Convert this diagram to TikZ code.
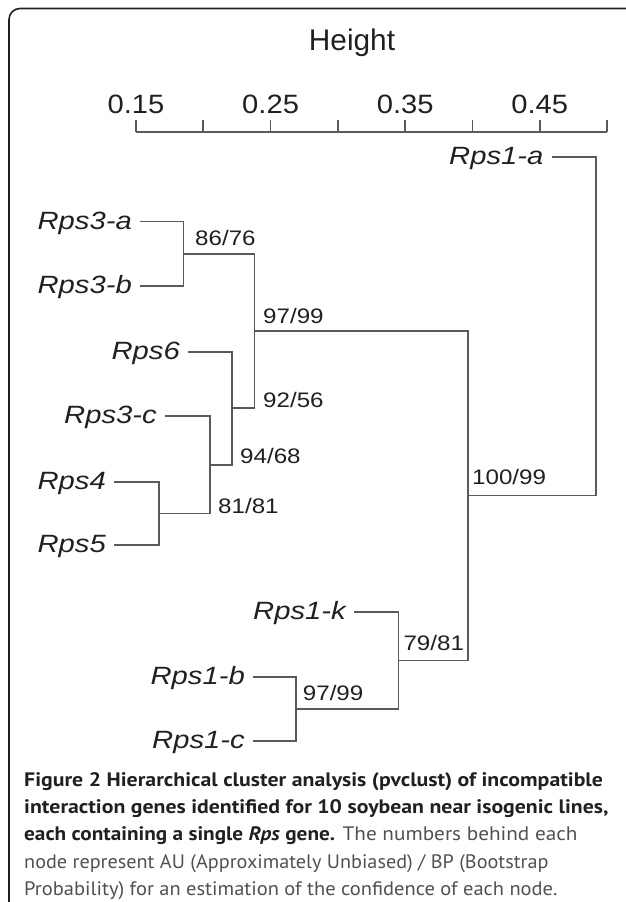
\documentclass[tikz,border=0pt]{standalone}
\usepackage{fontspec}
\usetikzlibrary{calc}
\setmainfont{Liberation Sans}
\newfontfamily\capfont{PT Sans}
\definecolor{ink}{RGB}{35,31,32}
\definecolor{capgray}{RGB}{80,80,80}
\definecolor{branchgray}{RGB}{90,90,90}
\newcommand{\genetxt}[1]{\scalebox{1.17}[1]{\itshape #1}}
\newcommand{\boottxt}[1]{\scalebox{1.15}[1]{#1}}
\newcommand{\ticktxt}[1]{\scalebox{1.1}[1]{#1}}
\newcommand{\capfit}[2]{\resizebox{#1}{\height}{#2}}
\tikzset{
  gene/.style={font=\fontsize{25}{25}\selectfont, text=ink, inner sep=0pt, anchor=base east},
  boot/.style={font=\fontsize{21}{21}\selectfont, text=ink, inner sep=0pt, anchor=base west},
  ticklab/.style={font=\fontsize{26.5}{26.5}\selectfont, text=ink, inner sep=0pt, anchor=base},
  branch/.style={draw=branchgray, line width=1.6pt},
  axisline/.style={draw=branchgray, line width=1.6pt},
  frameline/.style={draw=ink, line width=1.6pt, rounded corners=11pt},
  capline/.style={font=\capfont\fontsize{19.5}{19.5}\selectfont, text=capgray, inner sep=0pt, anchor=base west}
}
\begin{document}
\begin{tikzpicture}[x=1pt,y=-1pt]
\useasboundingbox (0,0) rectangle (625,902);
% frame
\draw[frameline] (626,8.5) -- (9,8.5) -- (9,903);
% title
\node[font=\fontsize{29.8}{29.8}\selectfont, text=ink, inner sep=0pt, anchor=base] (htitle) at (352,50.7) {Height};
% axis
\coordinate (axL) at (136,132);
\coordinate (axR) at (607,132);
\draw[axisline] (axL) -- (axR);
\foreach \i in {0,...,7}{
  \draw[axisline] ($(axL)+(\i*67.29,0)$) -- ++(0,-12.5);
}
\node[ticklab] (t15) at (136,113) {\ticktxt{0.15}};
\node[ticklab] (t25) at (270.6,113) {\ticktxt{0.25}};
\node[ticklab] (t35) at (405.2,113) {\ticktxt{0.35}};
\node[ticklab] (t45) at (539.7,113) {\ticktxt{0.45}};
% leaf coordinates (start of leaf branches)
\coordinate (L1a) at (551.7,156.7);
\coordinate (L3a) at (140,221.5);
\coordinate (L3b) at (140,286);
\coordinate (L6)  at (188,351.7);
\coordinate (L3c) at (165,416);
\coordinate (L4)  at (114,481.7);
\coordinate (L5)  at (114,545);
\coordinate (L1k) at (354,611.7);
\coordinate (L1b) at (253,676.7);
\coordinate (L1c) at (253,741);
% gene labels
\node[gene] (g1a) at ($(L1a)+(-8,7.5)$) {\genetxt{Rps1-a}};
\node[gene] (g3a) at ($(L3a)+(-8,7.5)$) {\genetxt{Rps3-a}};
\node[gene] (g3b) at ($(L3b)+(-8,7.5)$) {\genetxt{Rps3-b}};
\node[gene] (g6)  at ($(L6)+(-8,7.5)$)  {\genetxt{Rps6}};
\node[gene] (g3c) at ($(L3c)+(-8,7.5)$) {\genetxt{Rps3-c}};
\node[gene] (g4)  at ($(L4)+(-8,7.5)$)  {\genetxt{Rps4}};
\node[gene] (g5)  at ($(L5)+(-8,7.5)$)  {\genetxt{Rps5}};
\node[gene] (g1k) at ($(L1k)+(-8,7.5)$) {\genetxt{Rps1-k}};
\node[gene] (g1b) at ($(L1b)+(-8,7.5)$) {\genetxt{Rps1-b}};
\node[gene] (g1c) at ($(L1c)+(-8,7.5)$) {\genetxt{Rps1-c}};
% merge points
\coordinate (n86)  at (183.5,253.7);
\coordinate (n81)  at (159,513.3);
\coordinate (n94)  at (210,464.7);
\coordinate (n92)  at (232,408.2);
\coordinate (n97a) at (254.5,331);
\coordinate (n97b) at (295.7,708.8);
\coordinate (n79)  at (398.3,660.3);
\coordinate (n100) at (468,495.6);
\coordinate (root) at (596,326);
% branches
\draw[branch] (L3a) -| (n86) |- (L3b);
\draw[branch] (L4) -| (n81) |- (L5);
\draw[branch] (L3c) -| (n94) |- (n81);
\draw[branch] (L6) -| (n92) |- (n94);
\draw[branch] (n86) -| (n97a) |- (n92);
\draw[branch] (L1b) -| (n97b) |- (L1c);
\draw[branch] (L1k) -| (n79) |- (n97b);
\draw[branch] (n97a) -| (n100) |- (n79);
\draw[branch] (L1a) -| (root) |- (n100);
% AU/BP labels
\node[boot] (b86)  at (195,245.7) {\boottxt{86/76}};
\node[boot] (b97a) at (263,323) {\boottxt{97/99}};
\node[boot] (b92)  at (263,407.5) {\boottxt{92/56}};
\node[boot] (b94)  at (240,463.5) {\boottxt{94/68}};
\node[boot] (b81)  at (218,513.5) {\boottxt{81/81}};
\node[boot] (b100) at (472,484) {\boottxt{100/99}};
\node[boot] (b79)  at (403.3,650.7) {\boottxt{79/81}};
\node[boot] (b97b) at (302.7,700) {\boottxt{97/99}};
% caption
\node[capline] (c1) at (24,786.7) {\capfit{578.7pt}{\textcolor{ink}{\bfseries Figure 2 Hierarchical cluster analysis (pvclust) of incompatible}}};
\node[capline] (c2) at (24,813.8) {\capfit{584.3pt}{\textcolor{ink}{\bfseries interaction genes identified for 10 soybean near isogenic lines,}}};
\node[capline] (c3) at (24,840.9) {\capfit{553.3pt}{\textcolor{ink}{\bfseries each containing a single \textit{Rps} gene.} The numbers behind each}};
\node[capline] (c4) at (24,868) {\capfit{524.3pt}{node represent AU (Approximately Unbiased) / BP (Bootstrap}};
\node[capline] (c5) at (24,895.1) {\capfit{533.3pt}{Probability) for an estimation of the confidence of each node.}};
\end{tikzpicture}
\end{document}
